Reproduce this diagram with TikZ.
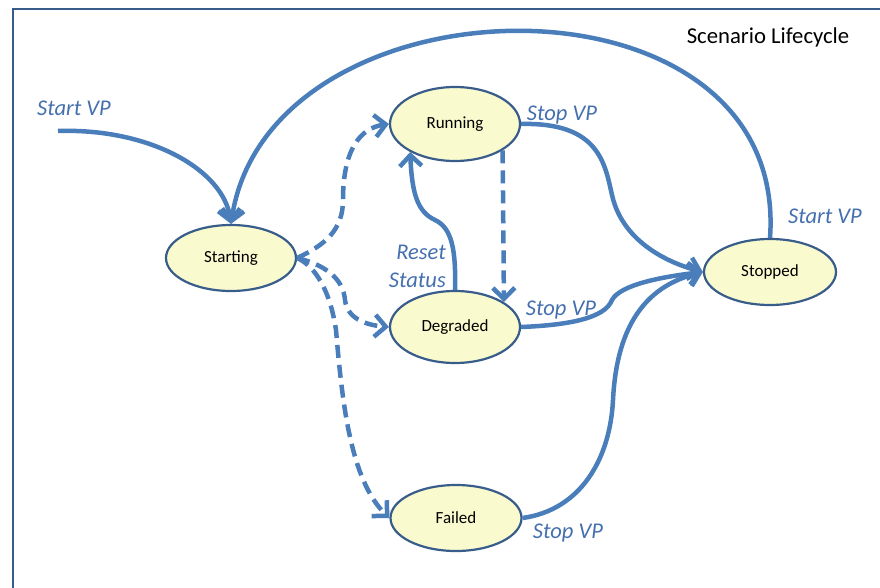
\documentclass[tikz,border=0pt]{standalone}
\usepackage{fontspec}
\setmainfont{Carlito}
\usetikzlibrary{arrows.meta,shapes.geometric}
\definecolor{arrblue}{HTML}{4A7EBB}
\definecolor{edgeblue}{HTML}{385D8A}
\definecolor{lblblue}{HTML}{4470AE}
\definecolor{statefill}{HTML}{FAFACF}
\tikzset{
  state/.style={ellipse, draw=edgeblue, line width=2.2pt, fill=statefill, inner sep=0pt,
    font=\fontsize{17}{20}\selectfont, text=black},
  arr/.style={draw=arrblue, line width=4.5pt, -{Straight Barb[length=11pt,width=22pt]}},
  darr/.style={arr, dash pattern=on 13pt off 7pt},
  lbl/.style={text=lblblue, font=\fontsize{22.5}{26}\selectfont\itshape, inner sep=0pt},
}
\begin{document}
\begin{tikzpicture}[x=1pt,y=-1pt]
\useasboundingbox (0,0) rectangle (880,588);
\draw[edgeblue, line width=2.6pt] (13,588) -- (13,9) -- (880,9);
\node[inner sep=0pt, font=\fontsize{22.7}{26}\selectfont] (title) at (768,37) {Scenario Lifecycle};

\node[state, minimum width=130pt, minimum height=66pt] (starting) at (231,258) {Starting};
\node[state, minimum width=130pt, minimum height=74pt] (running) at (455,124) {Running};
\node[state, minimum width=130pt, minimum height=72pt] (degraded) at (455,327) {Degraded};
\node[state, minimum width=132pt, minimum height=66pt] (stopped) at (770,272) {Stopped};
\node[state, minimum width=131pt, minimum height=66pt] (failed) at (456,518) {Failed};

\coordinate (entry) at (58,131);
\node[lbl] (lstart) at (74,108) {Start VP};
\node[lbl] (lstop1) at (562,115) {Stop VP};
\node[lbl] (lstart2) at (825,216) {Start VP};
\node[lbl] (lstop2) at (561,310) {Stop VP};
\node[lbl] (lstop3) at (568,533) {Stop VP};
\node[lbl, anchor=east] (lreset) at (446,252) {Reset};
\node[lbl, anchor=east] (lstatus) at (446,280) {Status};

% entry
\draw[arr] (entry) .. controls (150,128) and (224,170) .. (starting.north);
% restart arc
\draw[arr] (stopped.north) .. controls (790,-40) and (268,-30) .. (starting.north);
% to stopped
\draw[arr] (running.east) .. controls (600,122) and (605,165) .. (612,195) .. controls (622,240) and (665,262) .. (stopped.west);
\draw[arr] (degraded.east) .. controls (570,325) and (605,318) .. (612,300) .. controls (620,285) and (660,277) .. (stopped.west);
\draw[arr] (failed.east) .. controls (580,510) and (610,460) .. (613,400) .. controls (617,320) and (650,285) .. (stopped.west);
% reset status
\draw[arr] (degraded.north) .. controls (456,250) and (452,228) .. (435,220) .. controls (418,212) and (412,195) .. (running.212);
% running -> degraded
\draw[darr] (running.331.5) -- (degraded.27.9);
% starting -> others
\draw[darr] (starting.east) .. controls (325,245) and (343,230) .. (343,200) .. controls (343,150) and (360,128) .. (running.west);
\draw[darr] (starting.east) .. controls (325,265) and (343,278) .. (345,300) .. controls (347,318) and (365,325) .. (degraded.west);
\draw[darr] (starting.east) .. controls (315,266) and (330,290) .. (336,330) .. controls (342,400) and (350,480) .. (failed.west);
\end{tikzpicture}
\end{document}
